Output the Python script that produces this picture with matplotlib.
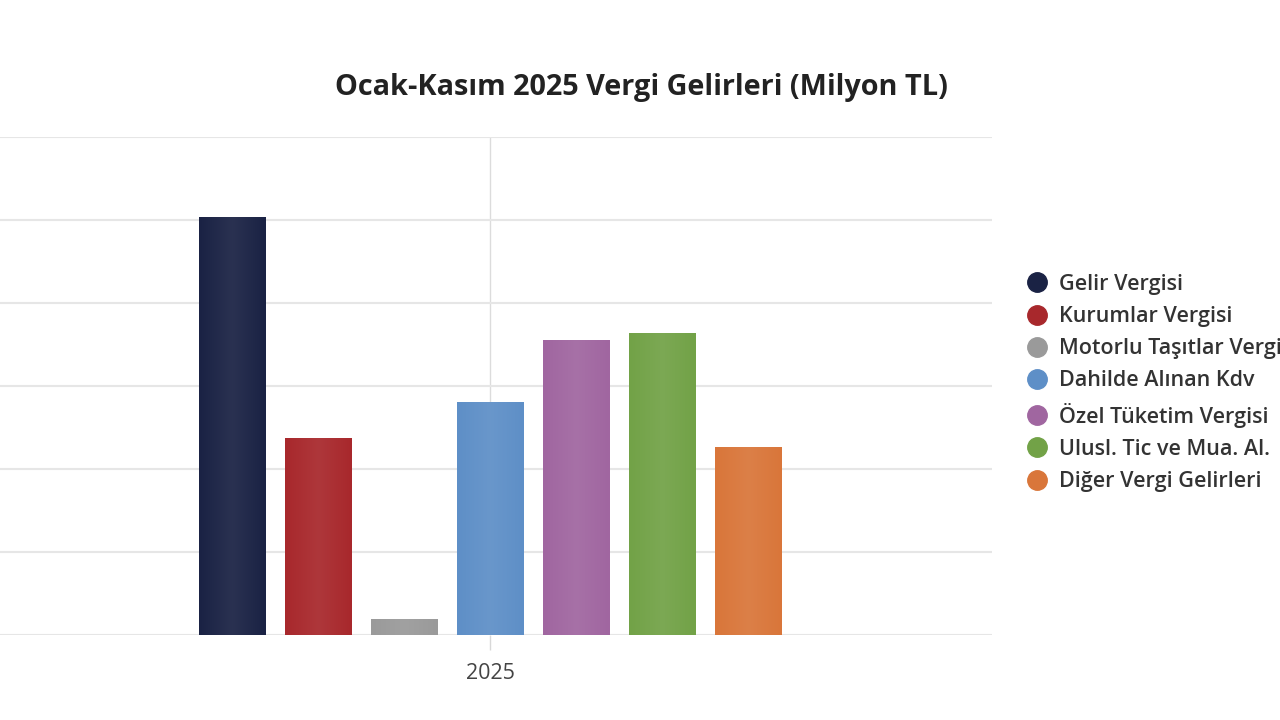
import numpy as np
import matplotlib
matplotlib.use('Agg')
import matplotlib.pyplot as plt
from matplotlib.lines import Line2D
from matplotlib.colors import to_rgb

plt.rcParams['font.family'] = ['Open Sans', 'DejaVu Sans']

# Data (Milyon TL)
categories = ['Gelir Vergisi', 'Kurumlar Vergisi', 'Motorlu Taşıtlar Vergisi',
              'Dahilde Alınan Kdv', 'Özel Tüketim Vergisi', 'Ulusl. Tic ve Mua. Al.',
              'Diğer Vergi Gelirleri']
values = [2520000, 1185000, 96000, 1405000, 1777000, 1818000, 1135000]
colors = ['#1a2244', '#a8282c', '#9a9a9a', '#5e8fc7', '#a066a0', '#72a247', '#d9763a']
year_label = '2025'

fig = plt.figure(figsize=(12.8, 7.2), dpi=100)
ax = fig.add_axes([0, (720 - 635) / 720, 992 / 1280, (635 - 137) / 720])

x = np.arange(len(categories))
bars = ax.bar(x, values, width=0.77, color=colors, zorder=3)

# soft highlight in the middle of each bar
grad = np.abs(np.linspace(-1, 1, 64))
for b, c in zip(bars, colors):
    base = np.array(to_rgb(c))
    light = base + (1 - base) * 0.07
    img = np.array([light * (1 - g) + base * g for g in grad])[None, :, :]
    im = ax.imshow(img, extent=[b.get_x(), b.get_x() + b.get_width(), 0, b.get_height()],
                   aspect='auto', zorder=4, interpolation='bicubic')
    im.set_clip_path(b)

center = (len(categories) - 1) / 2
ax.set_xlim(center - 490 / 86, center + (992 - 490) / 86)
ax.set_ylim(0, 3000000)
ax.set_yticks(np.arange(0, 3000001, 500000))
ax.set_yticklabels([])
ax.tick_params(axis='y', length=0)
ax.grid(axis='y', color='#e6e6e6', linewidth=1.5, zorder=0)

ax.set_xticks([center])
ax.set_xticklabels([year_label], fontsize=15.5, color='#444444')
ax.tick_params(axis='x', length=11, width=1, color='#d8d8d8', pad=9)
ax.axvline(center, color='#dcdcdc', linewidth=1, zorder=1)
for s in ax.spines.values():
    s.set_visible(False)

fig.text(641 / 1280, 1 - 87 / 720, 'Ocak-Kasım 2025 Vergi Gelirleri (Milyon TL)',
         ha='center', va='center', fontsize=20.8, fontweight='bold', color='#222222')

handles = [Line2D([], [], marker='o', linestyle='', markersize=14,
                  markerfacecolor=c, markeredgecolor=c) for c in colors]
fig.legend(handles, categories, loc='center left', bbox_to_anchor=(1013 / 1280, 1 - 383 / 720),
           frameon=False, prop={'size': 15.5, 'weight': 'semibold'}, labelspacing=0.52,
           handletextpad=0.4, handlelength=1.25, borderpad=0, labelcolor='#333333')

fig.savefig('out.png', dpi=100, facecolor='white')
